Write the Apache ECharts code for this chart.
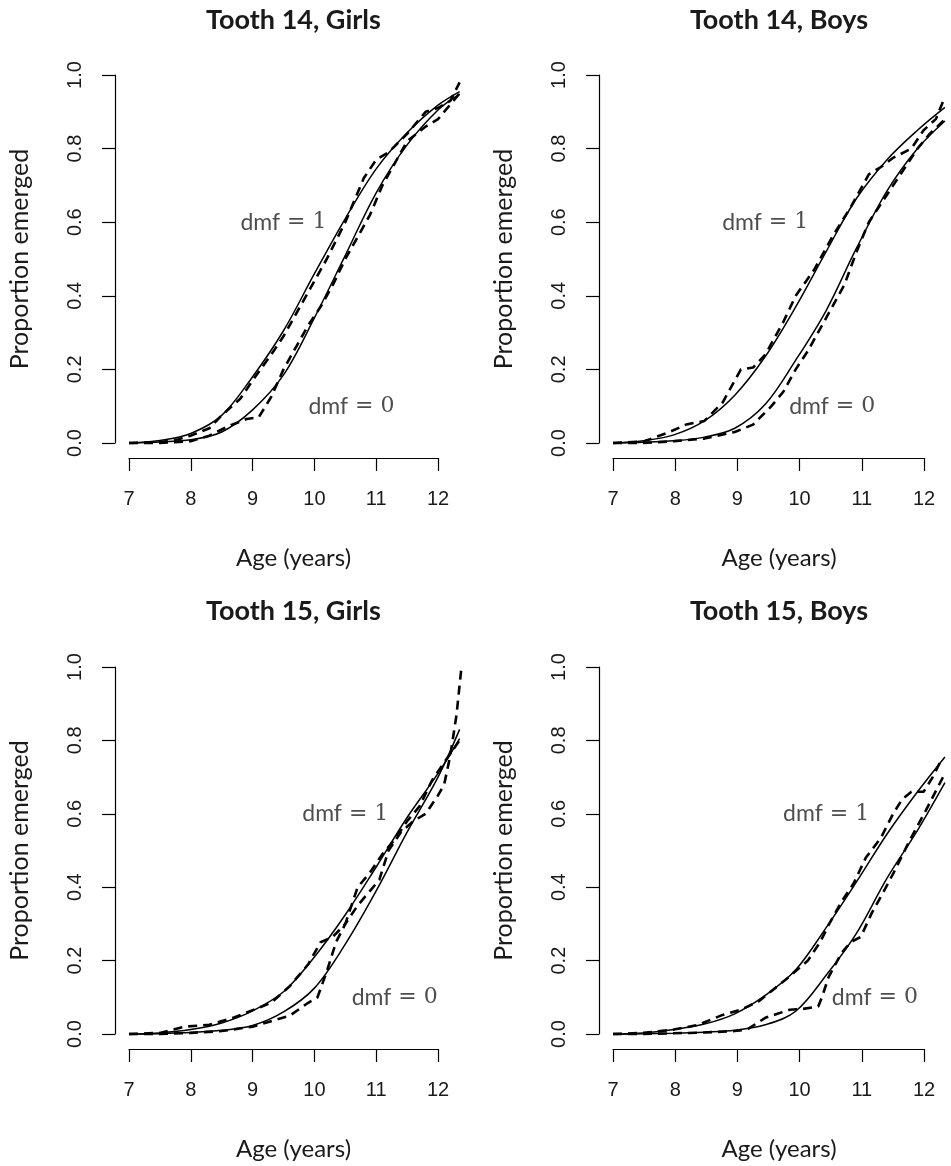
<!DOCTYPE html>
<html>
<head>
<meta charset="utf-8">
<script src="https://cdn.jsdelivr.net/npm/echarts@6.0.0/dist/echarts.min.js"></script>
<style>
  html, body { margin: 0; padding: 0; background: #ffffff; }
  #chart { width: 951px; height: 1166px; }
</style>
</head>
<body>
<div id="chart"></div>
<script>
// Tick values
const ageTicks = [7, 8, 9, 10, 11, 12];
const propTicks = [0, 0.2, 0.4, 0.6, 0.8, 1.0];

// Panel titles
const panelTitles = ['Tooth 14, Girls', 'Tooth 14, Boys', 'Tooth 15, Girls', 'Tooth 15, Boys'];

// Fitted (model) curves: ages and proportion emerged
const fitAgesL = [7, 7.5, 8, 8.5, 9, 9.5, 10, 10.5, 11, 11.5, 12, 12.35];
const fitAgesR = [7, 7.5, 8, 8.5, 9, 9.5, 10, 10.5, 11, 11.5, 12, 12.45];

const t14gFit1 = [0, 0.007, 0.026, 0.075, 0.18, 0.305, 0.46, 0.61, 0.745, 0.843, 0.918, 0.955];
const t14gFit0 = [0, 0.003, 0.009, 0.03, 0.09, 0.185, 0.34, 0.51, 0.68, 0.81, 0.905, 0.948];
const t14bFit1 = [0, 0.006, 0.022, 0.06, 0.13, 0.235, 0.37, 0.52, 0.665, 0.77, 0.85, 0.912];
const t14bFit0 = [0, 0.002, 0.006, 0.016, 0.04, 0.105, 0.225, 0.36, 0.53, 0.685, 0.8, 0.875];
const t15gFit1 = [0, 0.003, 0.012, 0.03, 0.063, 0.115, 0.21, 0.325, 0.455, 0.59, 0.71, 0.805];
const t15gFit0 = [0, 0.001, 0.004, 0.01, 0.023, 0.06, 0.125, 0.245, 0.39, 0.55, 0.7, 0.83];
const t15bFit1 = [0, 0.003, 0.012, 0.027, 0.055, 0.105, 0.175, 0.29, 0.415, 0.545, 0.66, 0.755];
const t15bFit0 = [0, 0.0005, 0.002, 0.005, 0.01, 0.025, 0.062, 0.16, 0.275, 0.425, 0.555, 0.685];

// Empirical (nonparametric) curves
const t14gEmpAges1 = [7.0, 7.5, 7.8, 8.0, 8.3, 8.5, 8.8, 9.0, 9.3, 9.5, 9.8, 10.0, 10.2, 10.5, 10.8, 11.0, 11.2, 11.5, 11.8, 12.0, 12.2, 12.35];
const t14gEmp1     = [0, 0.002, 0.01, 0.02, 0.04, 0.075, 0.12, 0.17, 0.24, 0.29, 0.38, 0.44, 0.5, 0.6, 0.72, 0.77, 0.79, 0.84, 0.9, 0.91, 0.93, 0.98];
const t14gEmpAges0 = [7.0, 7.5, 8.0, 8.3, 8.6, 8.9, 9.1, 9.3, 9.5, 9.7, 9.9, 10.1, 10.3, 10.5, 10.7, 10.9, 11.1, 11.3, 11.5, 11.8, 12.0, 12.2, 12.35];
const t14gEmp0     = [0, 0, 0.005, 0.02, 0.045, 0.065, 0.07, 0.125, 0.2, 0.26, 0.32, 0.37, 0.43, 0.5, 0.56, 0.62, 0.7, 0.76, 0.82, 0.86, 0.88, 0.92, 0.95];

const t14bEmpAges1 = [7.0, 7.5, 7.9, 8.2, 8.5, 8.8, 9.0, 9.1, 9.3, 9.5, 9.8, 10.0, 10.3, 10.6, 10.9, 11.2, 11.4, 11.6, 11.9, 12.1, 12.3, 12.45];
const t14bEmp1     = [0, 0.004, 0.028, 0.05, 0.06, 0.11, 0.17, 0.2, 0.205, 0.24, 0.33, 0.4, 0.47, 0.56, 0.64, 0.73, 0.75, 0.775, 0.8, 0.85, 0.88, 0.94];
const t14bEmpAges0 = [7.0, 7.5, 8.0, 8.5, 9.0, 9.3, 9.6, 9.8, 10.0, 10.2, 10.4, 10.6, 10.8, 11.0, 11.2, 11.4, 11.6, 11.8, 12.0, 12.2, 12.45];
const t14bEmp0     = [0, 0, 0.005, 0.012, 0.03, 0.05, 0.1, 0.14, 0.2, 0.25, 0.31, 0.37, 0.43, 0.52, 0.6, 0.65, 0.7, 0.75, 0.8, 0.84, 0.88];

const t15gEmpAges1 = [7.0, 7.5, 7.9, 8.3, 8.7, 9.0, 9.3, 9.6, 9.9, 10.1, 10.3, 10.5, 10.7, 10.9, 11.1, 11.3, 11.5, 11.7, 11.9, 12.1, 12.35];
const t15gEmp1     = [0, 0.003, 0.02, 0.025, 0.045, 0.065, 0.085, 0.13, 0.19, 0.25, 0.265, 0.3, 0.4, 0.44, 0.49, 0.53, 0.58, 0.62, 0.69, 0.74, 0.8];
const t15gEmpAges0 = [7.0, 7.5, 8.0, 8.5, 9.0, 9.3, 9.6, 9.9, 10.05, 10.2, 10.35, 10.5, 10.7, 10.9, 11.05, 11.2, 11.4, 11.6, 11.8, 12.0, 12.1, 12.2, 12.3, 12.38];
const t15gEmp0     = [0, 0, 0.003, 0.008, 0.02, 0.035, 0.05, 0.085, 0.1, 0.17, 0.25, 0.3, 0.35, 0.39, 0.42, 0.5, 0.55, 0.58, 0.6, 0.65, 0.68, 0.76, 0.87, 1.0];

const t15bEmpAges1 = [7.0, 7.5, 8.0, 8.4, 8.8, 9.1, 9.4, 9.7, 9.9, 10.2, 10.4, 10.55, 10.75, 10.95, 11.15, 11.4, 11.6, 11.75, 11.9, 12.1, 12.25, 12.4];
const t15bEmp1     = [0, 0.003, 0.012, 0.025, 0.052, 0.066, 0.09, 0.13, 0.157, 0.2, 0.25, 0.3, 0.36, 0.41, 0.48, 0.535, 0.6, 0.64, 0.66, 0.66, 0.7, 0.75];
const t15bEmpAges0 = [7.0, 7.5, 8.0, 8.5, 9.0, 9.2, 9.5, 9.7, 9.9, 10.1, 10.37, 10.43, 10.54, 10.75, 10.9, 11.07, 11.25, 11.45, 11.61, 11.88, 12.14, 12.45];
const t15bEmp0     = [0, 0, 0.002, 0.004, 0.008, 0.012, 0.044, 0.055, 0.066, 0.068, 0.075, 0.1, 0.155, 0.22, 0.25, 0.265, 0.33, 0.39, 0.44, 0.53, 0.61, 0.71];

// Curve annotations: [age, proportion] anchors for "dmf = 1" and "dmf = 0"
const dmf1LabelAt = [[9.5, 0.6], [9.5, 0.6], [10.5, 0.6], [10.5, 0.6]];
const dmf0LabelAt = [[10.6, 0.1], [10.6, 0.1], [11.3, 0.1], [11.3, 0.1]];

const panelCurves = [
  { fit: [[fitAgesL, t14gFit1], [fitAgesL, t14gFit0]], emp: [[t14gEmpAges1, t14gEmp1], [t14gEmpAges0, t14gEmp0]] },
  { fit: [[fitAgesR, t14bFit1], [fitAgesR, t14bFit0]], emp: [[t14bEmpAges1, t14bEmp1], [t14bEmpAges0, t14bEmp0]] },
  { fit: [[fitAgesL, t15gFit1], [fitAgesL, t15gFit0]], emp: [[t15gEmpAges1, t15gEmp1], [t15gEmpAges0, t15gEmp0]] },
  { fit: [[fitAgesR, t15bFit1], [fitAgesR, t15bFit0]], emp: [[t15bEmpAges1, t15bEmp1], [t15bEmpAges0, t15bEmp0]] }
];

// Each panel: the tick span of the axes (7..12, 0..1) in pixels, plus the
// wider plotting region to the right where the curves run past age 12.
const AGE_MIN = 7, AGE_TICK_MAX = 12, AGE_PLOT_MAX = 12.55;
const panels = [
  { left: 129, top: 75,  width: 309, height: 368 },
  { left: 613, top: 75,  width: 311, height: 368 },
  { left: 129, top: 667, width: 309, height: 367 },
  { left: 613, top: 667, width: 311, height: 367 }
];
const panelCenters = [293.5, 779, 293.5, 779];
const titleY = [20, 20, 611, 611];
const xNameY = [558, 558, 1149, 1149];

const SANS = 'Lato, "Open Sans", sans-serif';
const SERIF = '"DejaVu Serif", "Liberation Serif", serif';
const TICKFONT = '"Liberation Sans", Arial, sans-serif';
const INK = '#1a1a1a';

const pairs = (xs, ys) => xs.map((x, i) => [x, ys[i]]);

const gridList = [], xAxes = [], yAxes = [], series = [], graphics = [];

panels.forEach((p, i) => {
  const pxPerYear = p.width / (AGE_TICK_MAX - AGE_MIN);
  const axisGrid = gridList.length;
  // grid holding the visible axes (ticks from 7 to 12)
  gridList.push({ left: p.left, top: p.top, width: p.width, height: p.height });
  // grid holding the curves (same scale, extended to the right)
  gridList.push({ left: p.left, top: p.top,
                  width: pxPerYear * (AGE_PLOT_MAX - AGE_MIN), height: p.height });
  const dataGrid = axisGrid + 1;

  xAxes.push({
    gridIndex: axisGrid, type: 'value', min: AGE_MIN, max: AGE_TICK_MAX, interval: 1,
    offset: 15,
    axisLine: { show: true, onZero: false, lineStyle: { color: '#000', width: 1.2 } },
    axisTick: { show: true, inside: false, length: 13, lineStyle: { color: '#000', width: 1.2 } },
    axisLabel: { margin: 31, fontSize: 20, fontFamily: TICKFONT, color: INK },
    splitLine: { show: false }
  });
  yAxes.push({
    gridIndex: axisGrid, type: 'value', min: 0, max: 1, interval: 0.2,
    offset: 14,
    name: 'Proportion emerged', nameLocation: 'middle', nameGap: 83,
    nameTextStyle: { fontSize: 25, fontFamily: SANS, color: INK },
    axisLine: { show: true, onZero: false, lineStyle: { color: '#000', width: 1.2 } },
    axisTick: { show: true, inside: false, length: 13, lineStyle: { color: '#000', width: 1.2 } },
    axisLabel: { margin: 30, rotate: 90, fontSize: 20, fontFamily: TICKFONT, color: INK,
                 formatter: v => v.toFixed(1) },
    splitLine: { show: false }
  });
  const xData = xAxes.length;
  xAxes.push({ gridIndex: dataGrid, type: 'value', min: AGE_MIN, max: AGE_PLOT_MAX, show: false });
  const yData = yAxes.length;
  yAxes.push({ gridIndex: dataGrid, type: 'value', min: 0, max: 1, show: false });

  const c = panelCurves[i];
  c.fit.forEach(([xs, ys]) => {
    series.push({
      type: 'line', xAxisIndex: xData, yAxisIndex: yData, data: pairs(xs, ys),
      smooth: 0.35, showSymbol: false, clip: false,
      lineStyle: { color: '#000', width: 1.5, type: 'solid' }, z: 3
    });
  });
  c.emp.forEach(([xs, ys]) => {
    series.push({
      type: 'line', xAxisIndex: xData, yAxisIndex: yData, data: pairs(xs, ys),
      smooth: false, showSymbol: false, clip: false,
      lineStyle: { color: '#000', width: 2.6, type: [9, 6] }, z: 2
    });
  });

  // "dmf = 1" / "dmf = 0" annotations anchored in data coordinates
  [[dmf1LabelAt[i], '1'], [dmf0LabelAt[i], '0']].forEach(([pos, v]) => {
    series.push({
      type: 'scatter', xAxisIndex: xData, yAxisIndex: yData, data: [pos],
      symbolSize: 0, silent: true, clip: false,
      label: {
        show: true, position: 'inside',
        formatter: '{s|dmf}{m| = ' + v + '}',
        rich: {
          s: { fontFamily: SANS, fontSize: 23, color: '#222' },
          m: { fontFamily: SERIF, fontSize: 22, color: '#222' }
        }
      }
    });
  });

  graphics.push({
    type: 'text', x: panelCenters[i], y: titleY[i],
    style: { text: panelTitles[i], fontFamily: SANS, fontWeight: 'bold', fontSize: 27,
             fill: INK, align: 'center', verticalAlign: 'middle' }
  });
  graphics.push({
    type: 'text', x: panelCenters[i], y: xNameY[i],
    style: { text: 'Age (years)', fontFamily: SANS, fontSize: 24,
             fill: INK, align: 'center', verticalAlign: 'middle' }
  });
});

const chart = echarts.init(document.getElementById('chart'), null, { renderer: 'canvas' });
chart.setOption({
  animation: false,
  backgroundColor: '#ffffff',
  grid: gridList,
  xAxis: xAxes,
  yAxis: yAxes,
  series: series,
  graphic: graphics
});
</script>
</body>
</html>
